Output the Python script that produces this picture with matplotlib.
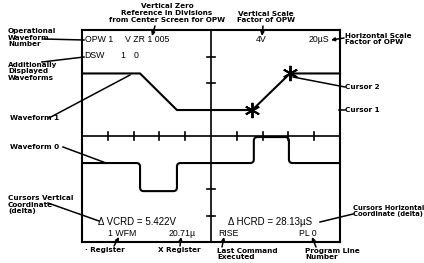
"""Oscilloscope screen diagram with annotated readouts"""
import numpy as np
import matplotlib
matplotlib.use('Agg')
import matplotlib.pyplot as plt
from matplotlib.path import Path
from matplotlib.patches import PathPatch

# --- data (screen divisions: x -5..5, y -4..4) ---
wave1_x = [-5.0, -2.75, -1.32, 1.60, 3.06, 5.0]
wave1_y = [2.36, 2.36, 0.98, 0.98, 2.36, 2.36]
wave0_x = [-5.0, -2.75, -2.75, -1.32, -1.32, 1.66, 1.66, 3.02, 3.02, 5.0]
wave0_y = [-1.02, -1.02, -2.08, -2.08, -1.02, -1.02, -0.04, -0.04, -1.02, -1.02]
cursor_x = [1.60, 3.06]
cursor_y = [0.98, 2.36]
grat_x = [-4, -3, -2, -1, 1, 2, 3, 4]
grat_y = [-3, -2, -1, 1, 2, 3]

W, H = 424, 263
ANN = ['Liberation Sans Narrow', 'DejaVu Sans']
SCR = ['Liberation Sans', 'DejaVu Sans']


def rounded(xs, ys, r):
    verts = [(xs[0], ys[0])]
    codes = [Path.MOVETO]
    for i in range(1, len(xs) - 1):
        p = np.array([xs[i], ys[i]])
        a = np.array([xs[i - 1], ys[i - 1]])
        b = np.array([xs[i + 1], ys[i + 1]])
        d1 = (p - a) / np.linalg.norm(p - a)
        d2 = (b - p) / np.linalg.norm(b - p)
        verts += [tuple(p - d1 * r), tuple(p), tuple(p + d2 * r)]
        codes += [Path.LINETO, Path.CURVE3, Path.CURVE3]
    verts.append((xs[-1], ys[-1]))
    codes.append(Path.LINETO)
    return Path(verts, codes)


def main():
    fig = plt.figure(figsize=(W / 100, H / 100), dpi=100)
    fig.patch.set_facecolor('white')

    # screen
    left, top, right, bot = 82, 30, 340, 242
    ax = fig.add_axes([left / W, (H - bot) / H, (right - left) / W, (bot - top) / H])
    ax.set_xlim(-5, 5)
    ax.set_ylim(-4, 4)
    ax.set_xticks([])
    ax.set_yticks([])
    for s in ax.spines.values():
        s.set_linewidth(1.5)
    ax.axhline(0, color='black', lw=1.2)
    ax.axvline(0, color='black', lw=1.2)
    for gx in grat_x:
        ax.plot([gx, gx], [-0.16, 0.16], color='black', lw=1.2)
    for gy in grat_y:
        ax.plot([-0.14, 0.14], [gy, gy], color='black', lw=1.2)

    ax.plot(wave1_x, wave1_y, color='black', lw=1.5, clip_on=False)
    ax.add_patch(PathPatch(rounded(wave0_x, wave0_y, 0.14), fill=False,
                           edgecolor='black', lw=1.5))
    ax.plot(cursor_x, cursor_y, linestyle='none', marker=(6, 2, 0),
            markersize=11, markeredgewidth=1.4, color='black')

    # overlay in image pixels for text and leaders
    ov = fig.add_axes([0, 0, 1, 1])
    ov.set_xlim(0, W)
    ov.set_ylim(H, 0)
    ov.axis('off')

    def ann(x, y, s, ha='left', size=5.2):
        ov.text(x, y, s, ha=ha, va='center', fontsize=size, fontweight='bold',
                family=ANN, linespacing=1.1)

    def scr(x, y, s, size=6.3, ha='left'):
        ov.text(x, y, s, ha=ha, va='center', fontsize=size, family=SCR)

    def lead(x0, y0, x1, y1, arrow=False):
        if arrow:
            ov.annotate('', xy=(x1, y1), xytext=(x0, y0),
                        arrowprops=dict(arrowstyle='-|>', color='black', lw=1.1,
                                        mutation_scale=5, shrinkA=0, shrinkB=0))
        else:
            ov.plot([x0, x1], [y0, y1], color='black', lw=1.1)

    # screen readouts
    scr(85, 40, 'OPW 1')
    scr(125, 40, 'V ZR 1 005')
    scr(261, 40, '4V', ha='center')
    scr(329, 40, '20\u00b5S', ha='right')
    scr(84, 56, 'DSW')
    scr(120, 56, '1')
    scr(134, 56, '0')
    scr(98, 222, '\u0394 VCRD = 5.422V', size=7)
    scr(228, 222, '\u0394 HCRD = 28.13\u00b5S', size=7)
    scr(108, 233, '1 WFM')
    scr(169, 233, '20.71\u00b5')
    scr(218, 233, 'RISE')
    scr(299, 233, 'PL 0')

    # annotations
    ann(167, 13, 'Vertical Zero\nReference in Divisions\nfrom Center Screen for OPW', ha='center')
    lead(155, 26, 152, 36, arrow=True)
    ann(266, 17, 'Vertical Scale\nFactor of OPW', ha='center')
    lead(263, 26, 262, 36, arrow=True)
    ann(345, 39, 'Horizontal Scale\nFactor of OPW')
    lead(344, 38, 331, 40, arrow=True)
    ann(8, 38, 'Operational\nWaveform\nNumber')
    lead(44, 39, 84, 40)
    ann(8, 71, 'Additionally\nDisplayed\nWaveforms')
    lead(42, 62, 84, 57)
    ann(10, 118, 'Waveform 1')
    lead(49, 118, 130, 75)
    ann(10, 147, 'Waveform 0')
    lead(63, 147, 106, 163)
    ann(8, 205, 'Cursors Vertical\nCoordinate\n(delta)')
    lead(48, 203, 99, 221)
    ann(345, 87, 'Cursor 2')
    lead(293, 77, 345, 87)
    ann(345, 110, 'Cursor 1')
    lead(339, 110, 345, 110)
    ann(353, 211, 'Cursors Horizontal\nCoordinate (delta)', size=4.9)
    lead(320, 222, 353, 214)
    ann(85, 250, '\u00b7 Register')
    lead(114, 246, 119, 237, arrow=True)
    ann(158, 250, 'X Register')
    lead(180, 246, 181, 237, arrow=True)
    ann(217, 254, 'Last Command\nExecuted')
    lead(222, 247, 224, 237, arrow=True)
    ann(305, 254, 'Program Line\nNumber')
    lead(316, 247, 312, 237, arrow=True)

    fig.savefig('out.png', dpi=100)
    plt.close(fig)


if __name__ == '__main__':
    main()
